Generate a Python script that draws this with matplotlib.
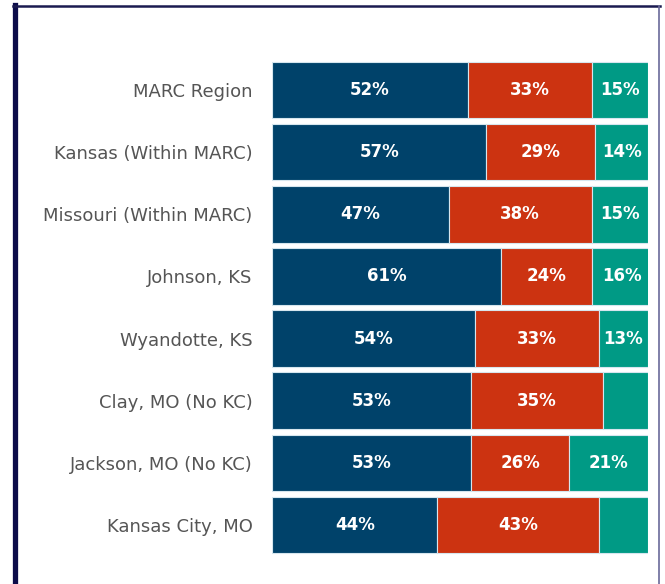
import numpy as np
import matplotlib
matplotlib.use("Agg")
import matplotlib.pyplot as plt
from matplotlib.lines import Line2D

regions = ["MARC Region", "Kansas (Within MARC)", "Missouri (Within MARC)",
           "Johnson, KS", "Wyandotte, KS", "Clay, MO (No KC)",
           "Jackson, MO (No KC)", "Kansas City, MO"]
blue_vals = [52, 57, 47, 61, 54, 53, 53, 44]
red_vals = [33, 29, 38, 24, 33, 35, 26, 43]
green_vals = [15, 14, 15, 16, 13, 12, 21, 13]
# segments drawn without a label in the original
show_green = [True, True, True, True, True, False, True, False]

colors = ["#00426A", "#CC3311", "#009A85"]
plt.rcParams['font.family'] = ['DejaVu Sans']

fig = plt.figure(figsize=(6.65, 5.84), dpi=100)
ax = fig.add_axes([272 / 665, 1 - 556 / 584, (648 - 272) / 665, (556 - 59) / 584])

y = np.arange(len(regions))
left = np.zeros(len(regions))
series = [blue_vals, red_vals, green_vals]
for k, vals in enumerate(series):
    vals = np.array(vals, dtype=float)
    ax.barh(y, vals, left=left, height=0.91, color=colors[k],
            edgecolor="#d6e6ee", linewidth=0.8)
    for i, v in enumerate(vals):
        if k == 2 and not show_green[i]:
            continue
        ax.text(left[i] + v / 2, y[i], "%d%%" % v, ha="center", va="center",
                color="white", fontsize=12, fontweight="bold")
    left += vals

ax.set_xlim(0, 100)
ax.set_ylim(len(regions) - 0.5, -0.5)
ax.set_yticks(y)
ax.set_yticklabels(regions, fontsize=13, color="#555555")
ax.tick_params(axis="y", length=0, pad=14)
ax.set_xticks([])
for s in ax.spines.values():
    s.set_visible(False)

# frame around the panel
fig.add_artist(Line2D([14.5 / 665, 14.5 / 665], [0, 1 - 5 / 584],
                      color="#0c0c4a", linewidth=3.8, transform=fig.transFigure))
fig.add_artist(Line2D([13 / 665, 660 / 665], [1 - 6 / 584, 1 - 6 / 584],
                      color="#1a1a50", linewidth=1.8, transform=fig.transFigure))
fig.add_artist(Line2D([659 / 665, 659 / 665], [0, 1 - 6 / 584],
                      color="#6a6a9a", linewidth=1.2, transform=fig.transFigure))

fig.savefig("out.png", dpi=100)
